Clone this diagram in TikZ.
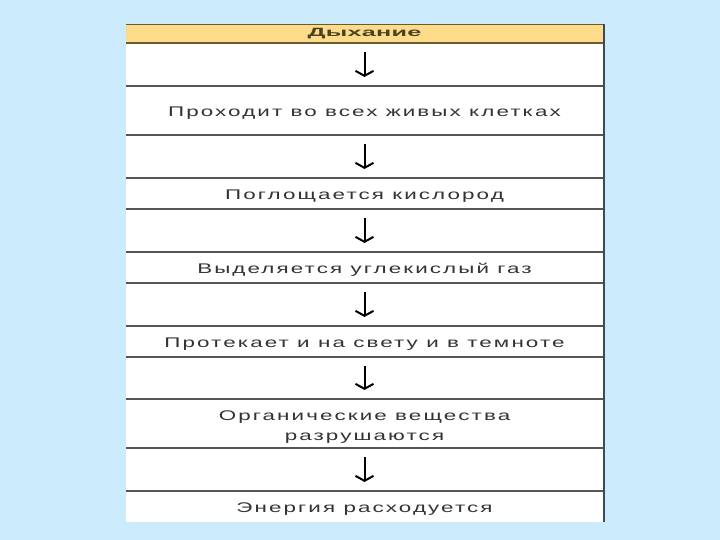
\documentclass[tikz,border=0pt]{standalone}
\usepackage{fontspec}
\setmainfont{Liberation Sans}[FakeStretch=1.6,LetterSpace=15]
\newfontfamily\headfont{Liberation Sans}[FakeStretch=2.1,LetterSpace=2]
\usetikzlibrary{arrows.meta,positioning}
\definecolor{bgblue}{HTML}{CCEBFC}
\definecolor{headyellow}{HTML}{FCDC8A}
\definecolor{headline}{HTML}{6B5A2E}
\definecolor{headtext}{HTML}{4A4220}
\definecolor{rowline}{HTML}{555555}
\definecolor{bodytext}{HTML}{333333}
\definecolor{edge}{HTML}{3E4A5A}

\begin{document}
\begin{tikzpicture}[
    x=1pt,y=1pt,
    node distance=0pt,
    cell/.style={fill=white,minimum width=477pt,inner sep=0pt,outer sep=0pt,
      align=center,text=bodytext,font=\fontsize{14}{20}\selectfont},
    gap/.style={cell,minimum height=43pt},
    row/.style={cell,minimum height=31pt,text height=14pt,text depth=1pt},
    >={Straight Barb[length=5pt,width=18pt]}]
  \fill[bgblue] (0,0) rectangle (720,540);
  \node[cell,fill=headyellow,minimum height=19pt,anchor=north west,
    text=headtext,font=\headfont\fontsize{12}{14}\selectfont\bfseries] (head) at (126,516) {Дыхание};
  \node[gap,below=of head] (a1) {};
  \node[row,minimum height=49pt,below=of a1] (t1) {Проходит во всех живых клетках};
  \node[gap,below=of t1] (a2) {};
  \node[row,below=of a2] (t2) {Поглощается кислород};
  \node[gap,below=of t2] (a3) {};
  \node[row,below=of a3] (t3) {Выделяется углекислый газ};
  \node[gap,below=of t3] (a4) {};
  \node[row,below=of a4] (t4) {Протекает и на свету и в темноте};
  \node[gap,minimum height=42pt,below=of t4] (a5) {};
  \node[cell,minimum height=49pt,below=of a5] (t5) {\rule{0pt}{16pt}Органические вещества\\разрушаются};
  \node[gap,below=of t5] (a6) {};
  \node[row,below=of a6] (t6) {Энергия расходуется};
  % rules
  \draw[headline] (head.north west) -- (head.north east);
  \draw[headline,line width=1.5pt] (head.south west) -- (head.south east);
  \foreach \c in {a1,t1,a2,t2,a3,t3,a4,t4,a5,t5,a6}
    \draw[rowline,line width=1.2pt] (\c.south west) -- (\c.south east);
  \draw[edge,line width=2.5pt] ([xshift=1pt]head.north east) -- ([xshift=1pt]t6.south east);
  % arrows
  \foreach \g in {a1,a2,a3,a4,a5,a6}
    \draw[->,line width=2pt] ([yshift=-9pt]\g.north) -- ([yshift=9pt]\g.south);
\end{tikzpicture}
\end{document}
